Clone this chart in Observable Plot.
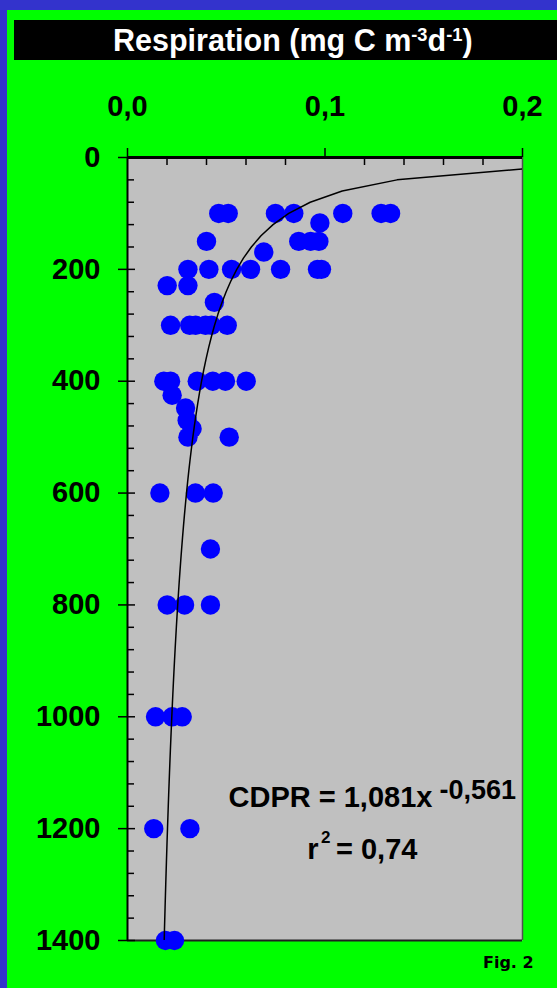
<!DOCTYPE html>
<html><head><meta charset="utf-8">
<script src="https://cdn.jsdelivr.net/npm/d3@7"></script>
<script src="https://cdn.jsdelivr.net/npm/@observablehq/plot@0.6"></script>
<style>
html,body{margin:0;padding:0;background:#3333cc;width:557px;height:988px;overflow:hidden;}
#page{position:relative;width:557px;height:988px;font-family:"Liberation Sans",Arial,sans-serif;}
#green{position:absolute;left:7px;top:10px;width:550px;height:978px;background:#00ff00;}
#bar{position:absolute;left:14px;top:20px;width:543px;height:40px;background:#000;}
#title{position:absolute;left:113px;top:25px;color:#fff;font-weight:bold;font-size:30.5px;white-space:nowrap;line-height:1;}
#title .sup{position:relative;top:-0.55em;font-size:0.6em;}
#chart{position:absolute;left:0;top:0;}
#fig{position:absolute;left:483px;top:955px;font-family:"DejaVu Sans",sans-serif;font-weight:bold;font-size:16px;line-height:1;color:#000;white-space:nowrap;}
</style></head>
<body><div id="page">
<div id="green"></div>
<div id="bar"></div>
<div id="title">Respiration (mg C m<span class="sup">-3</span>d<span class="sup">-1</span>)</div>
<div id="chart"></div>
<div id="fig">Fig. 2</div>
</div>
<script>
// Depth (m) of each measurement
const depth = [
  100,100,100,100,100,100,100,
  117,
  150,150,150,150,
  169,
  200,200,200,200,200,200,200,
  229,229,
  259,
  300,300,300,300,300,300,
  400,400,400,400,400,400,
  425,448,470,485,
  500,500,
  600,600,600,
  700,
  800,800,800,
  1000,1000,1000,
  1200,1200,
  1400,1400
];
// Respiration (mg C m-3 d-1)
const resp = [
  0.0462,0.0510,0.0749,0.0842,0.109,0.1284,0.1332,
  0.0974,
  0.040,0.0867,0.0927,0.0969,
  0.069,
  0.0306,0.0412,0.0527,0.0623,0.0775,0.0962,0.0982,
  0.0201,0.0306,
  0.044,
  0.0218,0.0315,0.0345,0.0395,0.0425,0.0505,
  0.0184,0.0218,0.0353,0.0432,0.0496,0.0601,
  0.0226,0.0294,0.0302,0.0327,
  0.0306,0.0515,
  0.0164,0.0344,0.0434,
  0.042,
  0.0201,0.0289,0.042,
  0.0142,0.0226,0.0277,
  0.0133,0.0316,
  0.0192,0.0238
];
// Fitted power law shown on the chart: CDPR = 1,081 x^-0,561
const fitA = 1.081;
const fitB = -0.561;
const fitDepths = d3.range(20, 1401, 20);

const xTicks = [0, 0.1, 0.2];
const xMinor = [0.02,0.04,0.06,0.08,0.12,0.14,0.16,0.18];
const yTicks = [0, 200, 400, 600, 800, 1000, 1200, 1400];
const yMinor = [40,80,120,160,240,280,320,360,440,480,520,560,640,680,720,760,840,880,920,960,1040,1080,1120,1160,1240,1280,1320,1360];

const dots = depth.map((d, i) => ({depth: d, resp: resp[i]}));
const curve = fitDepths.map(d => ({depth: d, resp: fitA * Math.pow(d, fitB)}));

const W = 557, H = 988, mL = 127, mR = 35, mT = 157, mB = 48;
const iw = W - mL - mR, ih = H - mT - mB;
const font = "Liberation Sans, Arial, sans-serif";
const fmtX = d => d3.format(".1f")(d).replace(".", ",");

const chart = Plot.plot({
  width: W, height: H,
  marginLeft: mL, marginRight: mR, marginTop: mT, marginBottom: mB,
  style: {background: "transparent", fontFamily: font, color: "#000", overflow: "visible"},
  x: {domain: [0, 0.2]},
  y: {domain: [0, 1400], reverse: true},
  marks: [
    Plot.frame({fill: "#c0c0c0", stroke: null}),
    Plot.ruleX([0.2], {stroke: "#505050", strokeWidth: 1.5}),
    Plot.ruleY([1400], {stroke: "#202020", strokeWidth: 2}),
    Plot.ruleX([0], {stroke: "#000", strokeWidth: 2}),
    Plot.ruleY([0], {stroke: "#000", strokeWidth: 3}),
    Plot.tickX(xMinor, {x: d => d, insetBottom: ih - 8, stroke: "#000", strokeWidth: 1.5}),
    Plot.tickX(xTicks, {x: d => d, insetTop: -9, insetBottom: ih, stroke: "#000", strokeWidth: 1.5}),
    Plot.tickY(yMinor, {y: d => d, insetRight: iw - 7, stroke: "#000", strokeWidth: 1.5}),
    Plot.tickY(yTicks, {y: d => d, insetLeft: -9, insetRight: iw - 8, stroke: "#000", strokeWidth: 1.5}),
    Plot.axisX(xTicks, {anchor: "top", tickSize: 0, tickPadding: 41.5, tickFormat: fmtX, fontSize: 29, fontWeight: "bold", label: null}),
    Plot.axisY(yTicks, {anchor: "left", tickSize: 0, tickPadding: 27, tickFormat: d => String(d), fontSize: 29, fontWeight: "bold", label: null}),
    Plot.dot(dots, {x: "resp", y: "depth", r: 9.7, fill: "#0000ff", stroke: null}),
    Plot.line(curve, {x: "resp", y: "depth", stroke: "#000", strokeWidth: 1.5, clip: true}),
    Plot.text(["CDPR = 1,081x"], {text: d => d, frameAnchor: "top-left", dx: 101, dy: 649.7, textAnchor: "start", lineAnchor: "bottom", fontSize: 29, fontWeight: "bold"}),
    Plot.text(["-0,561"], {text: d => d, frameAnchor: "top-left", dx: 312, dy: 641, textAnchor: "start", lineAnchor: "bottom", fontSize: 27, fontWeight: "bold"}),
    Plot.text(["r"], {text: d => d, frameAnchor: "top-left", dx: 179.7, dy: 701, textAnchor: "start", lineAnchor: "bottom", fontSize: 29, fontWeight: "bold"}),
    Plot.text(["2"], {text: d => d, frameAnchor: "top-left", dx: 193.5, dy: 685, textAnchor: "start", lineAnchor: "bottom", fontSize: 17, fontWeight: "bold"}),
    Plot.text(["= 0,74"], {text: d => d, frameAnchor: "top-left", dx: 208.5, dy: 701, textAnchor: "start", lineAnchor: "bottom", fontSize: 29, fontWeight: "bold"})
  ]
});
document.getElementById("chart").appendChild(chart);
</script>
</body></html>
